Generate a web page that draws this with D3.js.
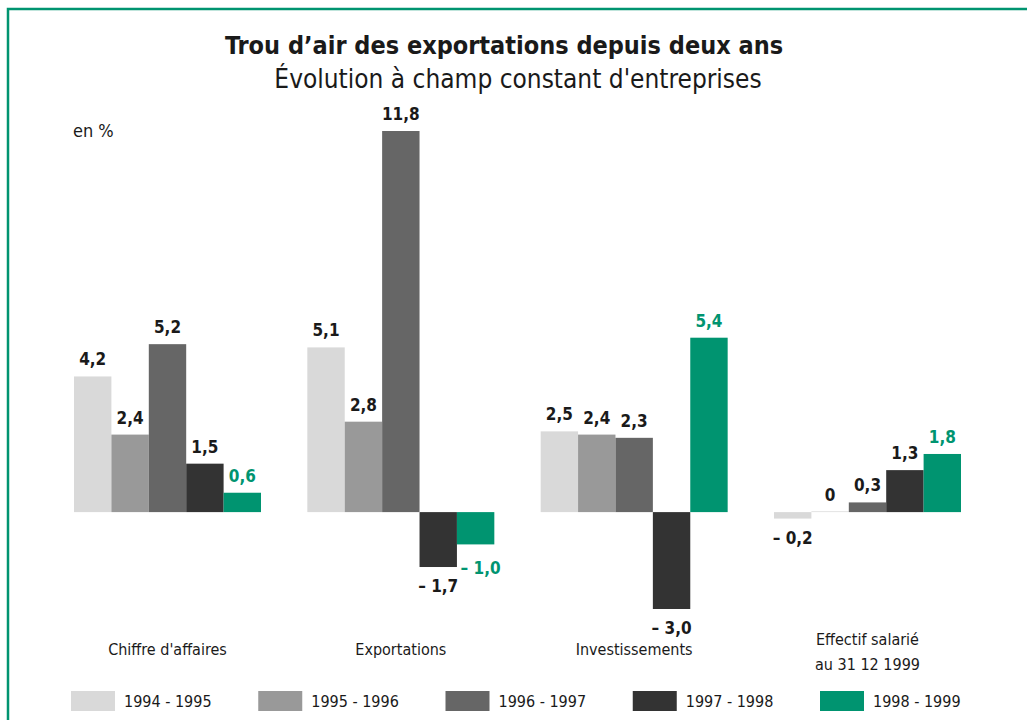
<!DOCTYPE html>
<html>
<head>
<meta charset="utf-8">
<script src="https://cdn.jsdelivr.net/npm/d3@7"></script>
<style>
  body { margin: 0; background: #fff; }
  text { font-family: "Liberation Sans Narrow", "DejaVu Sans Condensed", "Roboto Condensed", sans-serif; }
</style>
</head>
<body>
<svg></svg>
<script>
const categories = ['Chiffre d\'affaires', 'Exportations', 'Investissements', 'Effectif salarié|au 31 12 1999'];
const series = ['1994 - 1995', '1995 - 1996', '1996 - 1997', '1997 - 1998', '1998 - 1999'];
const values = [
	[4.2, 2.4, 5.2, 1.5, 0.6],
	[5.1, 2.8, 11.8, -1.7, -1.0],
	[2.5, 2.4, 2.3, -3.0, 5.4],
	[-0.2, 0, 0.3, 1.3, 1.8]
];
const colors = ['#d9d9d9', '#999999', '#666666', '#333333', '#009470'];

const svg = d3.select('svg')
	.attr('width', 1027)
	.attr('height', 720);

const width = +svg.attr('width'),
	height = +svg.attr('height');

const green = '#009470';

// frame
svg.append('rect')
	.attr('x', 8)
	.attr('y', 9)
	.attr('width', width + 20)
	.attr('height', height + 20)
	.attr('fill', 'none')
	.attr('stroke', green)
	.attr('stroke-width', 2.5);

svg.append('text')
	.attr('x', 504)
	.attr('y', 54)
	.attr('text-anchor', 'middle')
	.attr('font-size', 25)
	.attr('font-weight', 'bold')
	.attr('fill', '#1a1a1a')
	.text('Trou d’air des exportations depuis deux ans');

svg.append('text')
	.attr('x', 518)
	.attr('y', 88)
	.attr('text-anchor', 'middle')
	.attr('font-size', 26)
	.attr('fill', '#1a1a1a')
	.text('Évolution à champ constant d\'entreprises');

svg.append('text')
	.attr('x', 73)
	.attr('y', 137)
	.attr('font-size', 18)
	.attr('fill', '#1a1a1a')
	.text('en %');

const xScale = d3.scaleBand()
	.domain(categories)
	.range([74, 961])
	.paddingInner(0.1986);

const xInner = d3.scaleBand()
	.domain(series)
	.range([0, xScale.bandwidth()]);

const yScale = d3.scaleLinear()
	.domain([-3, 11.8])
	.range([609, 131]);

const fmt = v => {
	const s = d3.format('.1f')(Math.abs(v)).replace('.', ',');
	if (v === 0) return '0';
	return v < 0 ? '– ' + s : s;
};

const groups = svg.selectAll('.group')
	.data(categories)
	.enter().append('g')
	.attr('class', 'group')
	.attr('transform', d => `translate(${xScale(d)},0)`);

groups.each(function(cat, ci) {
	const g = d3.select(this);
	const rows = series.map((s, si) => ({ s, si, v: values[ci][si] }));

	g.selectAll('rect')
		.data(rows)
		.enter().append('rect')
		.attr('x', d => xInner(d.s))
		.attr('width', xInner.bandwidth())
		.attr('y', d => d.v === 0 ? yScale(0) - 1 : yScale(Math.max(0, d.v)))
		.attr('height', d => d.v === 0 ? 1 : Math.abs(yScale(d.v) - yScale(0)))
		.attr('fill', d => d.v === 0 ? '#e3e3e3' : colors[d.si]);

	g.selectAll('.val')
		.data(rows)
		.enter().append('text')
		.attr('class', 'val')
		.attr('x', d => xInner(d.s) + xInner.bandwidth() / 2 + (d.v < 0 && d.si === 4 ? 5 : 0))
		.attr('y', d => d.v >= 0 ? yScale(d.v) - 11 : yScale(d.v) + (d.si === 4 ? 30 : 25))
		.attr('text-anchor', 'middle')
		.attr('font-size', 17)
		.attr('font-weight', 'bold')
		.attr('fill', d => d.si === 4 ? green : '#1a1a1a')
		.text(d => fmt(d.v));

	const lines = cat.split('|');
	g.append('text')
		.attr('x', xScale.bandwidth() / 2)
		.attr('y', lines.length > 1 ? 645 : 655)
		.attr('text-anchor', 'middle')
		.attr('font-size', 16)
		.attr('fill', '#1a1a1a')
		.selectAll('tspan')
		.data(lines)
		.enter().append('tspan')
		.attr('x', xScale.bandwidth() / 2)
		.attr('dy', (d, i) => i === 0 ? 0 : 25)
		.text(d => d);
});

// legend
const legendX = d3.scalePoint()
	.domain(series)
	.range([71, 820]);

const legend = svg.selectAll('.legend')
	.data(series)
	.enter().append('g')
	.attr('class', 'legend')
	.attr('transform', d => `translate(${legendX(d)},691)`);

legend.append('rect')
	.attr('width', 44)
	.attr('height', 20)
	.attr('fill', (d, i) => colors[i]);

legend.append('text')
	.attr('x', 53)
	.attr('y', 16)
	.attr('font-size', 16)
	.attr('fill', '#1a1a1a')
	.text(d => d);
</script>
</body>
</html>
